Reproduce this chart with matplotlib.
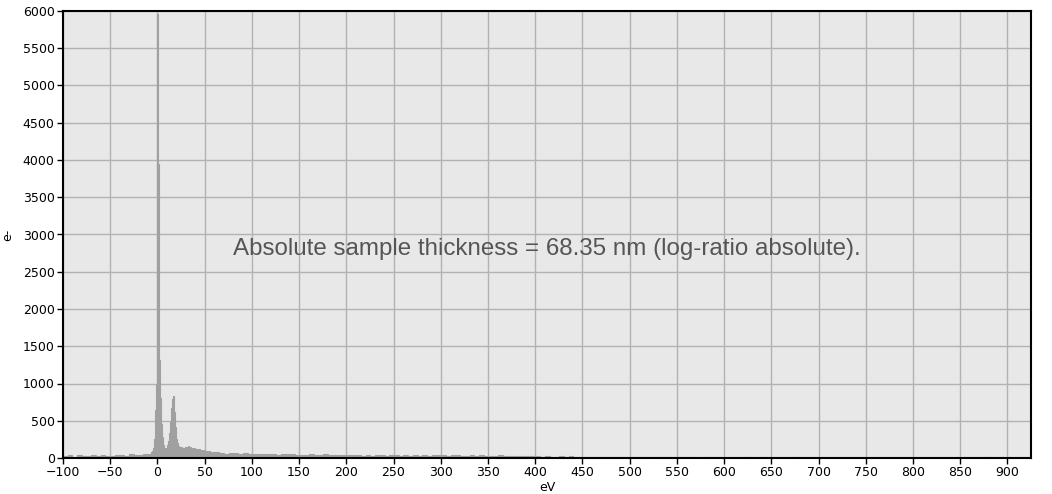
import matplotlib.pyplot as plt
import numpy as np

# Spectrum values (counts, e-)
# fine region around the zero-loss and plasmon peaks: 1 eV channels from -10 to 60 eV
fine_start = -10.5
fine_width = 1.0
fine_counts = [40, 45, 55, 60, 75, 95, 130, 260, 640, 1000,
               5960, 3950, 1310, 800, 460, 280, 170, 130, 105, 110,
               140, 170, 230, 330, 480, 670, 790, 835, 620, 420,
               260, 200, 160, 150, 145, 140, 150, 135, 140, 125,
               150, 130, 145, 160, 135, 150, 125, 140, 120, 130,
               115, 125, 110, 120, 105, 115, 100, 110, 95, 105,
               90, 100, 85, 95, 80, 90, 75, 85, 70, 80, 72]

# coarse region: 5 eV channels
neg_start = -100.0
neg_counts = [25, 35, 20, 40, 30, 22, 38, 28, 45, 30, 25, 42, 35, 30, 48, 40, 38, 50]

tail_start = 60.5
tail_counts = [75, 68, 60, 70, 62, 58, 66, 55,
               55, 60, 50, 48, 58, 45, 52, 47, 50, 44,
               46, 40, 50, 42, 38, 47, 40, 36, 44, 38,
               40, 35, 45, 33, 38, 30, 42, 36, 32, 38,
               35, 30, 40, 28, 36, 32, 45, 30, 34, 38,
               40, 30, 35, 45, 28, 33, 38, 30, 36, 28,
               30, 25, 35, 28, 22, 32, 26, 30, 24, 28,
               22, 18, 26, 20, 15, 24, 18, 22, 16, 20,
               15, 20, 12, 18, 14, 10, 16, 12, 18, 10,
               12, 8, 14, 10, 6, 12, 8, 10, 5, 9,
               8, 4, 10, 6, 3, 8, 5, 7, 4, 6,
               5, 3, 6, 2, 7, 4, 3, 8, 5, 10,
               6, 4, 3, 5, 7, 2, 4, 6, 3, 5,
               4, 2, 5, 3, 6, 2, 4, 3, 5, 2,
               3, 2, 4, 6, 3, 2, 5, 3, 2, 4,
               5, 3, 2, 4, 6, 3, 8, 4, 3, 5,
               3, 6, 4, 2, 5, 10, 4, 3]
coarse_width = 5.0

annotation = 'Absolute sample thickness = 68.35 nm (log-ratio absolute).'

# build channel edges / values
neg_edges = neg_start + coarse_width * np.arange(len(neg_counts))
fine_edges = fine_start + fine_width * np.arange(len(fine_counts))
tail_edges = tail_start + coarse_width * np.arange(len(tail_counts) + 1)
edges = np.concatenate([neg_edges, fine_edges, tail_edges])
counts = np.array(neg_counts + fine_counts + tail_counts, dtype=float)

fig = plt.figure(figsize=(10.52, 4.94), dpi=100)
ax = fig.add_axes([63 / 1052, 1 - 458 / 494, (1031 - 63) / 1052, (458 - 11) / 494])
ax.set_facecolor('#e8e8e8')

ax.stairs(counts, edges, fill=True, color='#a0a0a0', linewidth=0, zorder=3)
# outline so that 1-channel spikes stay visible
ax.stairs(counts, edges, color='#a0a0a0', linewidth=0.8, zorder=3)

ax.set_xlim(-100, 925)
ax.set_ylim(0, 6000)
ax.set_xticks(np.arange(-100, 901, 50))
ax.set_yticks(np.arange(0, 6001, 500))
ax.grid(True, color='#b2b2b2', linewidth=1.0, zorder=1)
ax.set_axisbelow(True)

for s in ax.spines.values():
    s.set_color('black')
    s.set_linewidth(1.5)
    s.set_zorder(5)

ax.tick_params(direction='out', length=4, width=1, labelsize=9, colors='black', pad=2)
ax.set_xlabel('eV', fontsize=9, labelpad=1)
ax.set_ylabel('e-', fontsize=9, labelpad=6)

ax.text(0.5, 0.468, annotation, transform=ax.transAxes, ha='center', va='center',
        fontsize=17.4, color='#555555', family=['Liberation Sans', 'DejaVu Sans'], zorder=6)

fig.savefig('out.png', dpi=100)
